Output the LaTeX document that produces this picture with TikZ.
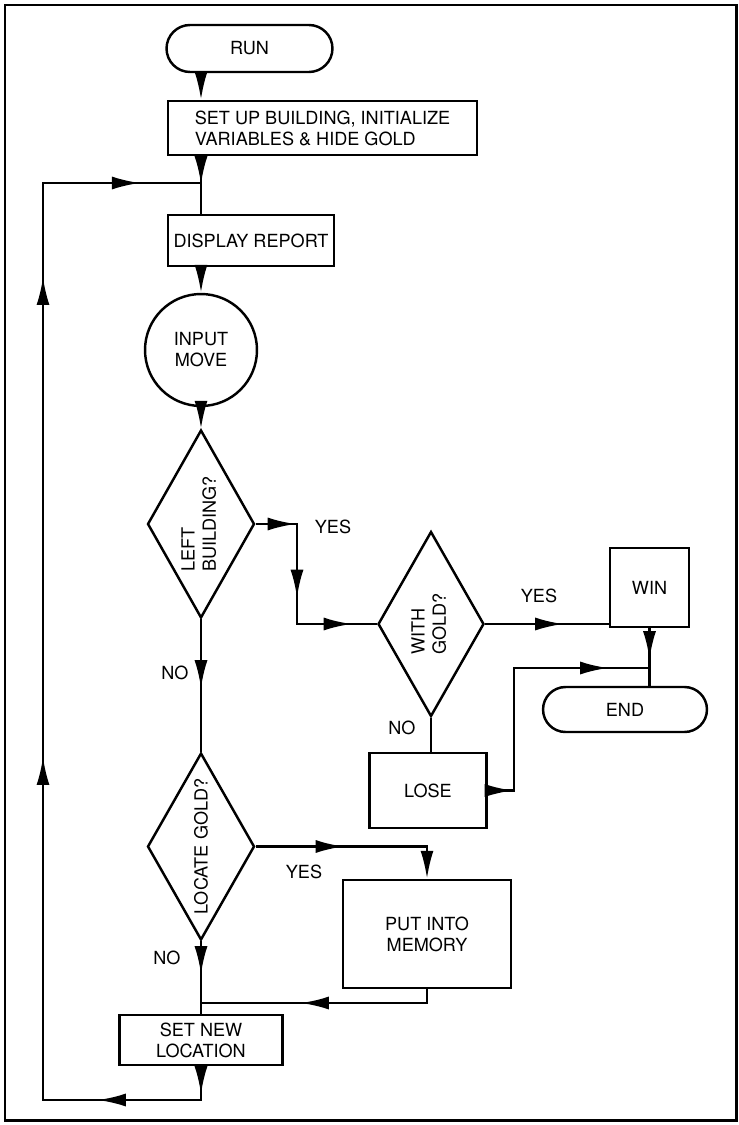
\documentclass[tikz,border=0pt]{standalone}
\usepackage{fontspec}
\setmainfont{TeX Gyre Heros}
\usetikzlibrary{positioning, arrows.meta, calc, shapes.geometric, shapes.misc, decorations.markings}

\begin{document}
\begin{tikzpicture}[
    x=0.02cm, y=-0.02cm,
    font=\fontsize{10.3}{12}\selectfont,
    flowtip/.tip={Latex[length=5.6mm, width=2.6mm]},
    % --- Styles ---
    box/.style={draw, line width=1.4pt, inner sep=2pt, align=center},
    terminal/.style={draw, line width=1.4pt, rounded rectangle, inner sep=2pt},
    decision/.style={draw, line width=1.4pt, diamond, aspect=0.57, inner sep=1pt},
    iocircle/.style={draw, line width=1.4pt, circle, minimum size=2.24cm, inner sep=0pt, align=center},
    flow/.style={line width=1.4pt},
    midtip/.style={postaction={decorate, decoration={markings, mark=at position #1 with {\arrow{flowtip}}}}},
    answer/.style={inner sep=0pt},
    frame/.style={line width=1.7pt}
]

    \useasboundingbox (0,0) rectangle (739,1125);
    \draw[frame] (5,5) rectangle (736,1120);

    % ==========================
    % 1. START / SET UP
    % ==========================
    \node[terminal, minimum width=3.46cm, minimum height=0.94cm] (run) at (249.5, 48.5) {RUN};
    \node[box, minimum width=6.18cm, minimum height=1.08cm, align=left] (setup) at (322.5, 128) {SET UP BUILDING, INITIALIZE\\VARIABLES \& HIDE GOLD};
    \node[box, minimum width=3.32cm, minimum height=1.02cm] (display) at (251, 240.5) {DISPLAY REPORT};
    \node[iocircle] (input) at (201, 350) {INPUT\\MOVE};

    % ==========================
    % 2. DECISIONS
    % ==========================
    \node[decision, minimum width=2.14cm, minimum height=3.76cm] (leftbld) at (201, 524) {\rotatebox{90}{\begin{tabular}{@{}l@{}}LEFT\\BUILDING?\end{tabular}}};
    \node[decision, minimum width=2.12cm, minimum height=3.70cm] (withgold) at (431, 624) {\rotatebox{90}{\begin{tabular}{@{}l@{}}WITH\\GOLD?\end{tabular}}};
    \node[decision, minimum width=2.14cm, minimum height=3.74cm] (locate) at (201, 846.5) {\rotatebox{90}{LOCATE GOLD?}};

    % ==========================
    % 3. OUTCOMES
    % ==========================
    \node[box, minimum size=1.58cm] (win) at (649.5, 587.5) {WIN};
    \node[terminal, minimum width=3.42cm, minimum height=0.9cm] (finish) at (625, 709.5) {END};
    \node[box, minimum width=2.34cm, minimum height=1.5cm] (lose) at (428, 790.5) {LOSE};
    \node[box, minimum width=3.36cm, minimum height=2.16cm] (memory) at (427, 934) {PUT INTO\\MEMORY};
    \node[box, minimum width=3.26cm, minimum height=1.0cm] (newloc) at (201, 1040) {SET NEW\\LOCATION};

    % Answer labels
    \node[answer] (yesleft) at (333, 527) {YES};
    \node[answer] (yesgold) at (539, 596) {YES};
    \node[answer] (noleft) at (175, 673) {NO};
    \node[answer] (nogold) at (402, 728) {NO};
    \node[answer] (yeslocate) at (304, 872) {YES};
    \node[answer] (nolocate) at (167, 958) {NO};

    % ==========================
    % 4. CONNECTORS
    % ==========================
    % main column
    \draw[flow, -flowtip] (run.south -| input) -- (setup.north -| input);
    \draw[flow, midtip=0.56cm] (setup.south -| input) -- (display.north -| input);
    \draw[flow, -flowtip] (display.south -| input) -- (input.north);
    \draw[flow, -flowtip] (input.south) -- (leftbld.north);
    \draw[flow, midtip=1.38cm] (leftbld.south) -- (locate.north);
    \draw[flow, midtip=0.66cm] (locate.south) -- (newloc.north);

    % left building: yes
    \coordinate (jog) at (297, 0);
    \draw[flow, midtip=0.8cm, midtip=2.30cm, midtip=3.92cm] (leftbld.east) -- (leftbld.east -| jog) -- (withgold.west -| jog) -- (withgold.west);

    % with gold: yes / no
    \draw[flow, midtip=1.56cm] (withgold.east) -- (withgold.east -| win.west);
    \draw[flow] (withgold.south) -- (withgold.south |- lose.north);
    \draw[flow, midtip=0.62cm] (win.south) -- (win.south |- finish.north);
    \coordinate (losebend) at (514, 668);
    \draw[flow, midtip=0.5cm, midtip=4.86cm] (lose.east) -- (lose.east -| losebend) -- (losebend) -- (losebend -| win.south);

    % locate gold: yes
    \draw[flow, midtip=1.76cm, -flowtip] (locate.east) -- (locate.east -| memory.north) -- (memory.north);
    \coordinate (memback) at (0, 1003);
    \draw[flow, midtip=2.8cm] (memory.south) -- (memory.south |- memback) -- (memback -| input);

    % loop back to report
    \coordinate (loopbl) at (43, 1100);
    \coordinate (looptl) at (43, 183);
    \draw[flow, midtip=0.56cm, midtip=2.74cm, midtip=10.70cm, midtip=20.30cm, midtip=24.12cm] (newloc.south) -- (newloc.south |- loopbl) -- (loopbl) -- (looptl) -- (looptl -| input);

\end{tikzpicture}
\end{document}
